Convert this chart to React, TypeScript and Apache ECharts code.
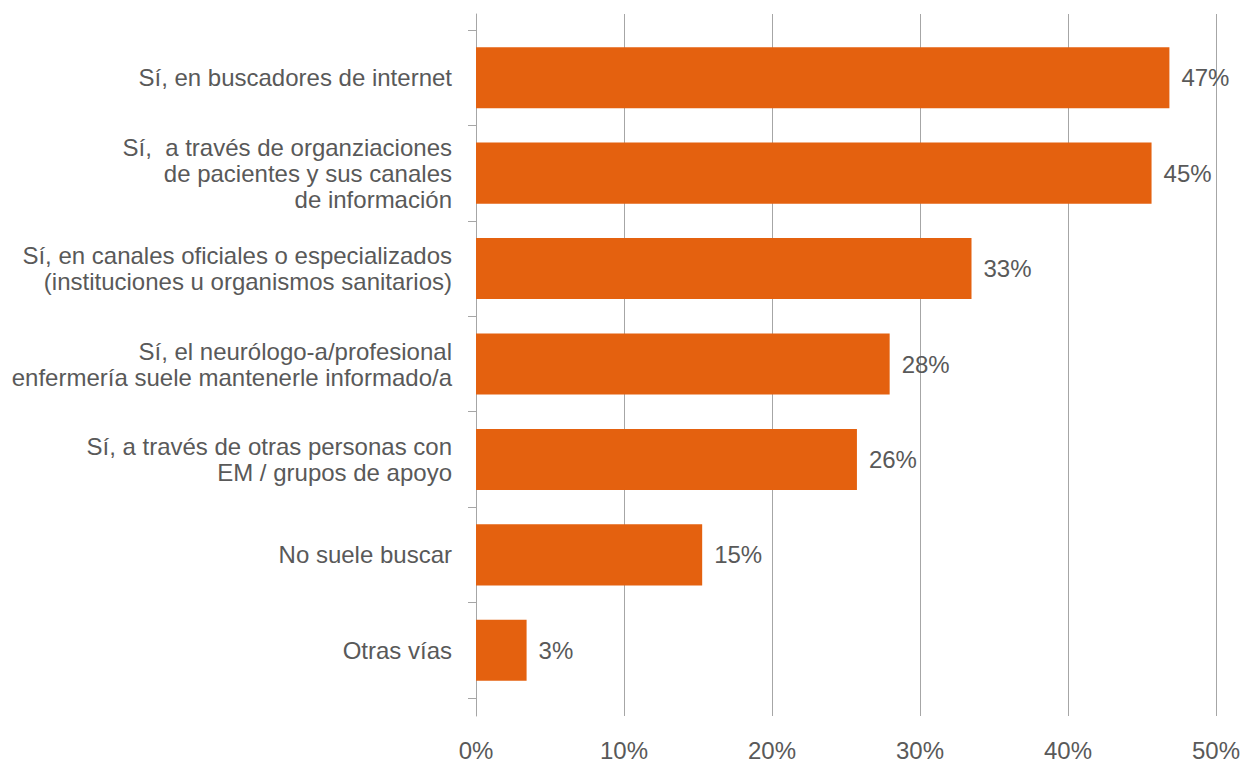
import React, { useEffect, useRef } from "react";
import * as echarts from "echarts";

const categories = [
  "Sí, en buscadores de internet",
  "Sí,  a través de organziaciones\nde pacientes y sus canales\nde información",
  "Sí, en canales oficiales o especializados\n(instituciones u organismos sanitarios)",
  "Sí, el neurólogo-a/profesional\nenfermería suele mantenerle informado/a",
  "Sí, a través de otras personas con\nEM / grupos de apoyo",
  "No suele buscar",
  "Otras vías",
];
const values = [46.6, 45.4, 33.3, 27.8, 25.6, 15.2, 3.4];
const axisTicks = [0, 10, 20, 30, 40, 50];

const TEXT = "#595959";
const GRID = "#a6a6a6";
const BAR = "#E4610F";
const FONT = "'Liberation Sans', Arial, sans-serif";
const FS = 24;

export default function App() {
  const ref = useRef<HTMLDivElement>(null);
  useEffect(() => {
    if (!ref.current) return;
    const chart = echarts.init(ref.current, undefined, { renderer: "svg" });
    chart.setOption({
      animation: false,
      backgroundColor: "#ffffff",
      textStyle: { fontFamily: FONT },
      grid: [
        { left: 476, right: 23, top: 14, bottom: 45 },
        { left: 476, right: 23, top: 30, bottom: 64 },
      ],
      xAxis: [
        {
          gridIndex: 0,
          type: "value",
          min: axisTicks[0],
          max: axisTicks[axisTicks.length - 1],
          interval: 10,
          axisLine: { show: false },
          axisTick: { show: false },
          splitLine: { show: true, lineStyle: { color: GRID, width: 1 } },
          axisLabel: {
            formatter: "{value}%",
            color: TEXT,
            fontSize: FS,
            fontFamily: FONT,
            margin: 22,
          },
        },
        {
          gridIndex: 1,
          type: "value",
          min: 0,
          max: 50,
          show: false,
        },
      ],
      yAxis: [
        {
          gridIndex: 0,
          type: "value",
          min: 0,
          max: 1,
          axisLine: { show: true, onZero: false, lineStyle: { color: GRID, width: 1 } },
          axisTick: { show: false },
          axisLabel: { show: false },
          splitLine: { show: false },
        },
        {
          gridIndex: 1,
          type: "category",
          inverse: true,
          data: categories,
          axisLine: { show: false },
          axisTick: { show: true, length: 8, lineStyle: { color: GRID, width: 1 } },
          axisLabel: {
            color: TEXT,
            fontSize: FS,
            fontFamily: FONT,
            lineHeight: 26,
            margin: 24,
            align: "right",
          },
        },
      ],
      series: [
        {
          type: "bar",
          xAxisIndex: 1,
          yAxisIndex: 1,
          data: values,
          barWidth: "64%",
          itemStyle: { color: BAR },
          label: {
            show: true,
            position: "right",
            distance: 12,
            color: TEXT,
            fontSize: FS,
            fontFamily: FONT,
            formatter: (p: any) => `${Math.round(p.value)}%`,
          },
        },
      ],
    });
    return () => chart.dispose();
  }, []);
  return (
    <div
      ref={ref}
      style={{ position: "fixed", left: 0, top: 0, width: 1243, height: 762 }}
    />
  );
}
